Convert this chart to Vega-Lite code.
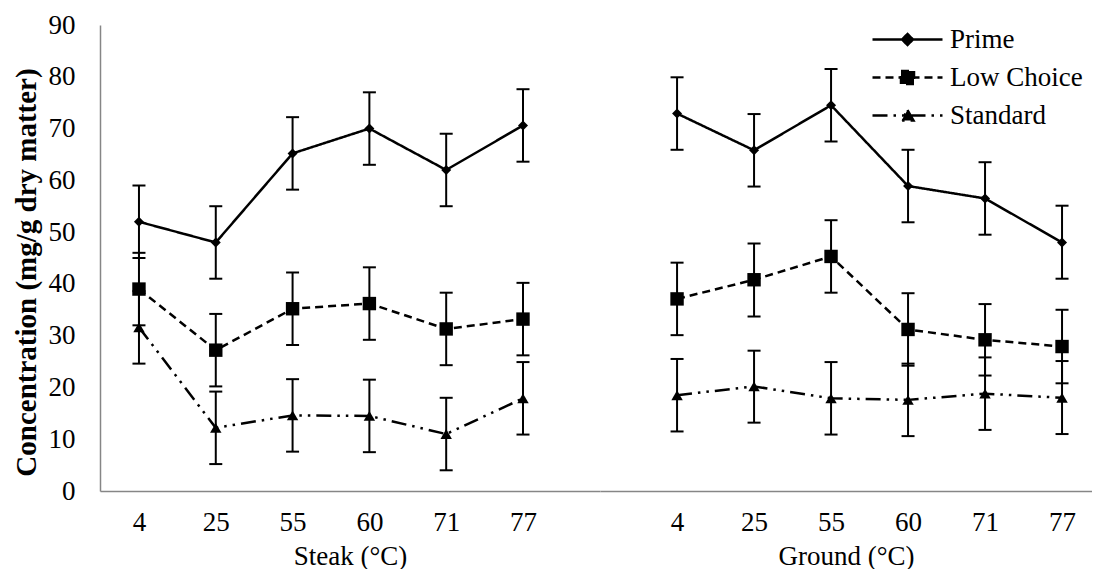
{
  "$schema": "https://vega.github.io/schema/vega-lite/v6.json",
  "background": "white",
  "padding": {"left": 12, "top": 11, "right": 0, "bottom": 0},
  "spacing": 0,
  "config": {
    "view": {"stroke": null},
    "font": "Liberation Serif",
    "concat": {"spacing": 0}
  },
  "datasets": {
    "d": [
      {"cut": "Steak", "temp": "4", "series": "Prime", "value": 52.0, "lo": 45.0, "hi": 59.0},
      {"cut": "Steak", "temp": "25", "series": "Prime", "value": 48.0, "lo": 41.0, "hi": 55.0},
      {"cut": "Steak", "temp": "55", "series": "Prime", "value": 65.2, "lo": 58.2, "hi": 72.2},
      {"cut": "Steak", "temp": "60", "series": "Prime", "value": 70.0, "lo": 63.0, "hi": 77.0},
      {"cut": "Steak", "temp": "71", "series": "Prime", "value": 62.0, "lo": 55.0, "hi": 69.0},
      {"cut": "Steak", "temp": "77", "series": "Prime", "value": 70.6, "lo": 63.6, "hi": 77.6},
      {"cut": "Steak", "temp": "4", "series": "Low Choice", "value": 39.0, "lo": 32.0, "hi": 46.0},
      {"cut": "Steak", "temp": "25", "series": "Low Choice", "value": 27.2, "lo": 20.2, "hi": 34.2},
      {"cut": "Steak", "temp": "55", "series": "Low Choice", "value": 35.2, "lo": 28.2, "hi": 42.2},
      {"cut": "Steak", "temp": "60", "series": "Low Choice", "value": 36.2, "lo": 29.2, "hi": 43.2},
      {"cut": "Steak", "temp": "71", "series": "Low Choice", "value": 31.3, "lo": 24.3, "hi": 38.3},
      {"cut": "Steak", "temp": "77", "series": "Low Choice", "value": 33.2, "lo": 26.2, "hi": 40.2},
      {"cut": "Steak", "temp": "4", "series": "Standard", "value": 31.6, "lo": 24.6, "hi": 38.6},
      {"cut": "Steak", "temp": "25", "series": "Standard", "value": 12.2, "lo": 5.2, "hi": 19.2},
      {"cut": "Steak", "temp": "55", "series": "Standard", "value": 14.6, "lo": 7.6, "hi": 21.6},
      {"cut": "Steak", "temp": "60", "series": "Standard", "value": 14.5, "lo": 7.5, "hi": 21.5},
      {"cut": "Steak", "temp": "71", "series": "Standard", "value": 11.0, "lo": 4.0, "hi": 18.0},
      {"cut": "Steak", "temp": "77", "series": "Standard", "value": 17.9, "lo": 10.9, "hi": 24.9},
      {"cut": "Ground", "temp": "4", "series": "Prime", "value": 72.9, "lo": 65.9, "hi": 79.9},
      {"cut": "Ground", "temp": "25", "series": "Prime", "value": 65.8, "lo": 58.8, "hi": 72.8},
      {"cut": "Ground", "temp": "55", "series": "Prime", "value": 74.5, "lo": 67.5, "hi": 81.5},
      {"cut": "Ground", "temp": "60", "series": "Prime", "value": 58.9, "lo": 51.9, "hi": 65.9},
      {"cut": "Ground", "temp": "71", "series": "Prime", "value": 56.5, "lo": 49.5, "hi": 63.5},
      {"cut": "Ground", "temp": "77", "series": "Prime", "value": 48.0, "lo": 41.0, "hi": 55.1},
      {"cut": "Ground", "temp": "4", "series": "Low Choice", "value": 37.1, "lo": 30.1, "hi": 44.1},
      {"cut": "Ground", "temp": "25", "series": "Low Choice", "value": 40.8, "lo": 33.7, "hi": 47.8},
      {"cut": "Ground", "temp": "55", "series": "Low Choice", "value": 45.3, "lo": 38.3, "hi": 52.3},
      {"cut": "Ground", "temp": "60", "series": "Low Choice", "value": 31.2, "lo": 24.2, "hi": 38.2},
      {"cut": "Ground", "temp": "71", "series": "Low Choice", "value": 29.2, "lo": 22.3, "hi": 36.1},
      {"cut": "Ground", "temp": "77", "series": "Low Choice", "value": 27.9, "lo": 20.8, "hi": 35.0},
      {"cut": "Ground", "temp": "4", "series": "Standard", "value": 18.5, "lo": 11.5, "hi": 25.5},
      {"cut": "Ground", "temp": "25", "series": "Standard", "value": 20.2, "lo": 13.2, "hi": 27.1},
      {"cut": "Ground", "temp": "55", "series": "Standard", "value": 17.9, "lo": 10.9, "hi": 24.9},
      {"cut": "Ground", "temp": "60", "series": "Standard", "value": 17.6, "lo": 10.6, "hi": 24.6},
      {"cut": "Ground", "temp": "71", "series": "Standard", "value": 18.8, "lo": 11.8, "hi": 25.8},
      {"cut": "Ground", "temp": "77", "series": "Standard", "value": 18.0, "lo": 11.0, "hi": 25.1}
    ]
  },
  "resolve": {
    "scale": {"strokeDash": "shared"},
    "legend": {"strokeDash": "shared"}
  },
  "hconcat": [
    {
      "width": 500,
      "height": 466,
      "data": {"name": "d"},
      "transform": [{"filter": "datum.cut === 'Steak'"}],
      "encoding": {
        "x": {
          "field": "temp", "type": "ordinal",
          "sort": ["4", "25", "55", "60", "71", "77"],
          "scale": {"type": "point", "padding": 0.755, "align": 0.336},
          "axis": {
            "title": "Steak (°C)", "ticks": false, "labelAngle": 0, "labelPadding": 18,
            "labelFontSize": 27, "titleFontSize": 27, "titleFontWeight": "normal", "titlePadding": 8,
            "labelColor": "black", "titleColor": "black",
            "domainColor": "#868686", "domainWidth": 1.5, "grid": false
          }
        },
        "y": {
          "field": "value", "type": "quantitative", "scale": {"domain": [0, 90]},
          "axis": {
            "title": "Concentration (mg/g dry matter)", "values": [0, 10, 20, 30, 40, 50, 60, 70, 80, 90],
            "ticks": false, "grid": false, "labelPadding": 25, "titlePadding": 7, "titleY": 247,
            "titleFontWeight": "bold", "titleFontSize": 29, "labelFontSize": 27,
            "labelColor": "black", "titleColor": "black",
            "domainColor": "#868686", "domainWidth": 1.5
          }
        }
      },
      "layer": [
        {
          "mark": {"type": "rule", "color": "black", "strokeWidth": 2},
          "encoding": {"y": {"field": "lo", "type": "quantitative"}, "y2": {"field": "hi"}}
        },
        {
          "mark": {"type": "tick", "color": "black", "size": 13, "thickness": 2, "opacity": 1},
          "encoding": {"y": {"field": "lo", "type": "quantitative"}}
        },
        {
          "mark": {"type": "tick", "color": "black", "size": 13, "thickness": 2, "opacity": 1},
          "encoding": {"y": {"field": "hi", "type": "quantitative"}}
        },
        {
          "mark": {"type": "line", "color": "black", "strokeWidth": 2.5, "strokeCap": "butt"},
          "encoding": {
            "strokeDash": {
              "field": "series", "type": "nominal",
              "scale": {"domain": ["Prime", "Low Choice", "Standard"], "range": [[1, 0], [8, 5], [15, 6, 2.5, 6, 2.5, 6]]},
              "legend": {
                "title": null, "orient": "none", "legendX": 817, "legendY": 1,
                "labelFontSize": 27, "labelFont": "Liberation Serif", "labelColor": "black",
                "symbolSize": 100, "symbolStrokeWidth": 2.5, "symbolStrokeColor": "black", "symbolFillColor": "black",
                "labelOffset": 6, "rowPadding": 10, "padding": 0,
                "encode": {
                  "symbols": {
                    "update": {
                      "shape": {"signal": "datum.value === 'Prime' ? 'M-11.6,0L2.4,0M-4.6,-1.1L-3.5,0L-4.6,1.1L-5.7,0Z' : datum.value === 'Low Choice' ? 'M-11.6,0L2.4,0M-5.9,-1.3L-3.3,-1.3L-3.3,1.3L-5.9,1.3Z' : 'M-11.6,0L2.4,0M-4.6,-1.1L-3.4,1L-5.8,1Z'"},
                      "fill": {"value": "black"},
                      "stroke": {"value": "black"}
                    }
                  }
                }
              }
            }
          }
        },
        {
          "transform": [{"filter": "datum.series === 'Prime'"}],
          "mark": {"type": "point", "filled": true, "color": "black", "opacity": 1, "shape": "diamond", "size": 100},
          "encoding": {}
        },
        {
          "transform": [{"filter": "datum.series === 'Low Choice'"}],
          "mark": {"type": "point", "filled": true, "color": "black", "opacity": 1, "shape": "square", "size": 180},
          "encoding": {}
        },
        {
          "transform": [{"filter": "datum.series === 'Standard'"}],
          "mark": {"type": "point", "filled": true, "color": "black", "opacity": 1, "shape": "triangle-up", "size": 130},
          "encoding": {}
        }
      ]
    },
    {
      "width": 492,
      "height": 466,
      "data": {"name": "d"},
      "transform": [{"filter": "datum.cut === 'Ground'"}],
      "encoding": {
        "x": {
          "field": "temp", "type": "ordinal",
          "sort": ["4", "25", "55", "60", "71", "77"],
          "scale": {"type": "point", "padding": 0.695, "align": 0.72},
          "axis": {
            "title": "Ground (°C)", "ticks": false, "labelAngle": 0, "labelPadding": 18,
            "labelFontSize": 27, "titleFontSize": 27, "titleFontWeight": "normal", "titlePadding": 8,
            "labelColor": "black", "titleColor": "black",
            "domainColor": "#868686", "domainWidth": 1.5, "grid": false
          }
        },
        "y": {"field": "value", "type": "quantitative", "scale": {"domain": [0, 90]}, "axis": null}
      },
      "layer": [
        {
          "mark": {"type": "rule", "color": "black", "strokeWidth": 2},
          "encoding": {"y": {"field": "lo", "type": "quantitative", "axis": null}, "y2": {"field": "hi"}}
        },
        {
          "mark": {"type": "tick", "color": "black", "size": 13, "thickness": 2, "opacity": 1},
          "encoding": {"y": {"field": "lo", "type": "quantitative", "axis": null}}
        },
        {
          "mark": {"type": "tick", "color": "black", "size": 13, "thickness": 2, "opacity": 1},
          "encoding": {"y": {"field": "hi", "type": "quantitative", "axis": null}}
        },
        {
          "mark": {"type": "line", "color": "black", "strokeWidth": 2.5, "strokeCap": "butt"},
          "encoding": {
            "strokeDash": {
              "field": "series", "type": "nominal",
              "scale": {"domain": ["Prime", "Low Choice", "Standard"], "range": [[1, 0], [8, 5], [15, 6, 2.5, 6, 2.5, 6]]},
              "legend": {
                "title": null, "orient": "none", "legendX": 817, "legendY": 1,
                "labelFontSize": 27, "labelFont": "Liberation Serif", "labelColor": "black",
                "symbolSize": 100, "symbolStrokeWidth": 2.5, "symbolStrokeColor": "black", "symbolFillColor": "black",
                "labelOffset": 6, "rowPadding": 10, "padding": 0,
                "encode": {
                  "symbols": {
                    "update": {
                      "shape": {"signal": "datum.value === 'Prime' ? 'M-11.6,0L2.4,0M-4.6,-1.1L-3.5,0L-4.6,1.1L-5.7,0Z' : datum.value === 'Low Choice' ? 'M-11.6,0L2.4,0M-5.9,-1.3L-3.3,-1.3L-3.3,1.3L-5.9,1.3Z' : 'M-11.6,0L2.4,0M-4.6,-1.1L-3.4,1L-5.8,1Z'"},
                      "fill": {"value": "black"},
                      "stroke": {"value": "black"}
                    }
                  }
                }
              }
            }
          }
        },
        {
          "transform": [{"filter": "datum.series === 'Prime'"}],
          "mark": {"type": "point", "filled": true, "color": "black", "opacity": 1, "shape": "diamond", "size": 100},
          "encoding": {}
        },
        {
          "transform": [{"filter": "datum.series === 'Low Choice'"}],
          "mark": {"type": "point", "filled": true, "color": "black", "opacity": 1, "shape": "square", "size": 180},
          "encoding": {}
        },
        {
          "transform": [{"filter": "datum.series === 'Standard'"}],
          "mark": {"type": "point", "filled": true, "color": "black", "opacity": 1, "shape": "triangle-up", "size": 130},
          "encoding": {}
        }
      ]
    }
  ]
}
